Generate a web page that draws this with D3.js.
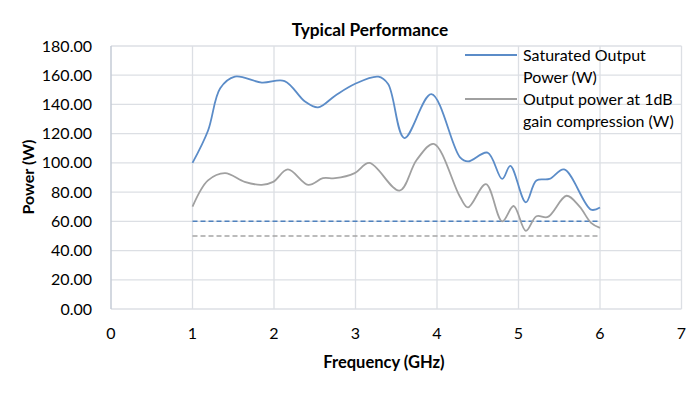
<!DOCTYPE html>
<html>
<head>
<meta charset="utf-8">
<script src="https://cdn.jsdelivr.net/npm/d3@7"></script>
<style>
    body { margin: 0; background: #fff; }
    svg { display: block; }
</style>
</head>
<body>
<div id="chart"></div>
<script>
// Saturated output power (W)
const satFreq = [1.0, 1.19, 1.34, 1.52, 1.85, 2.13, 2.38, 2.54, 2.75, 2.99, 3.28, 3.40, 3.60, 3.93, 4.28, 4.38, 4.62, 4.80, 4.90, 5.09, 5.22, 5.38, 5.56, 5.89, 6.0];
const satPower = [100, 122, 151, 159, 155, 156, 142, 138, 146, 154, 159, 154, 117, 147, 104, 101, 107, 89, 98, 73, 88, 89, 95.5, 68, 69.5];

// Output power at 1dB gain compression (W)
const p1dbFreq = [1.0, 1.19, 1.40, 1.64, 1.85, 1.99, 2.17, 2.42, 2.60, 2.75, 2.99, 3.17, 3.54, 3.75, 3.96, 4.28, 4.38, 4.60, 4.80, 4.94, 5.09, 5.22, 5.36, 5.59, 5.75, 5.89, 6.0];
const p1dbPower = [70, 88, 93, 87, 85, 87, 95.5, 85, 89.5, 89.5, 93, 100, 81, 102, 113, 77, 69.5, 85.5, 60, 70.5, 53.5, 63.5, 63, 77.5, 70, 59, 55.5];

// spec lines (dashed)
const specFreq = [1, 6];
const satSpec = [60, 60];
const p1dbSpec = [50, 50];

const xTicks = [0, 1, 2, 3, 4, 5, 6, 7];
const yTicks = [0, 20, 40, 60, 80, 100, 120, 140, 160, 180];

const width = 700;
const height = 397;
const margin = {top: 46, right: 18, bottom: 88, left: 111};

const blue = "#5b8cc8";
const grey = "#a0a0a0";
const font = "Lato, 'Open Sans', sans-serif";

const svg = d3.select("#chart")
    .append("svg")
    .attr("width", width)
    .attr("height", height);

const x = d3.scaleLinear()
    .domain([0, 7])
    .range([margin.left, width - margin.right - 0.5]);

const y = d3.scaleLinear()
    .domain([0, 180])
    .range([height - margin.bottom, margin.top]);

// gridlines
svg.append("g")
    .selectAll("line")
    .data(yTicks)
    .enter()
    .append("line")
    .attr("x1", x(0))
    .attr("x2", x(7))
    .attr("y1", d => y(d))
    .attr("y2", d => y(d))
    .attr("stroke", "#dcdfe4")
    .attr("stroke-width", 1.3);

svg.append("g")
    .selectAll("line")
    .data(xTicks.slice(1))
    .enter()
    .append("line")
    .attr("x1", d => x(d))
    .attr("x2", d => x(d))
    .attr("y1", y(0))
    .attr("y2", y(180))
    .attr("stroke", "#dcdfe4")
    .attr("stroke-width", 1.3);

// left axis line
svg.append("line")
    .attr("x1", x(0))
    .attr("x2", x(0))
    .attr("y1", y(0))
    .attr("y2", y(180))
    .attr("stroke", "#c5cbd6")
    .attr("stroke-width", 1.5);

// tick labels
svg.append("g")
    .selectAll("text")
    .data(yTicks)
    .enter()
    .append("text")
    .attr("x", 92)
    .attr("y", d => y(d))
    .attr("dy", "0.35em")
    .attr("text-anchor", "end")
    .style("font-family", font)
    .style("font-size", "16px")
    .attr("fill", "#000")
    .text(d => d3.format(".2f")(d));

svg.append("g")
    .selectAll("text")
    .data(xTicks)
    .enter()
    .append("text")
    .attr("x", d => x(d))
    .attr("y", 333)
    .attr("dy", "0.35em")
    .attr("text-anchor", "middle")
    .style("font-family", font)
    .style("font-size", "16px")
    .attr("fill", "#000")
    .text(d => d);

// axis titles
svg.append("text")
    .attr("x", 384)
    .attr("y", 362)
    .attr("dy", "0.35em")
    .attr("text-anchor", "middle")
    .style("font-family", font)
    .style("font-size", "16.5px")
    .style("font-weight", "bold")
    .text("Frequency (GHz)");

svg.append("text")
    .attr("transform", "translate(28,177) rotate(-90)")
    .attr("dy", "0.35em")
    .attr("text-anchor", "middle")
    .style("font-family", font)
    .style("font-size", "16px")
    .style("font-weight", "bold")
    .text("Power (W)");

svg.append("text")
    .attr("x", 370)
    .attr("y", 30)
    .attr("dy", "0.35em")
    .attr("text-anchor", "middle")
    .style("font-family", font)
    .style("font-size", "17.3px")
    .style("font-weight", "bold")
    .text("Typical Performance");

// dashed spec lines
const specLine = d3.line()
    .x(d => x(d[0]))
    .y(d => y(d[1]));

svg.append("path")
    .datum(d3.zip(specFreq, satSpec))
    .attr("d", specLine)
    .attr("fill", "none")
    .attr("stroke", "#4f81bd")
    .attr("stroke-width", 1.5)
    .attr("stroke-dasharray", "5,3");

svg.append("path")
    .datum(d3.zip(specFreq, p1dbSpec))
    .attr("d", specLine)
    .attr("fill", "none")
    .attr("stroke", "#a5a5a5")
    .attr("stroke-width", 1.5)
    .attr("stroke-dasharray", "5,3");

// smooth series lines
const smoothLine = d3.line()
    .x(d => x(d[0]))
    .y(d => y(d[1]))
    .curve(d3.curveCatmullRom.alpha(0.5));

svg.append("path")
    .datum(d3.zip(p1dbFreq, p1dbPower))
    .attr("d", smoothLine)
    .attr("fill", "none")
    .attr("stroke", grey)
    .attr("stroke-width", 1.8);

svg.append("path")
    .datum(d3.zip(satFreq, satPower))
    .attr("d", smoothLine)
    .attr("fill", "none")
    .attr("stroke", blue)
    .attr("stroke-width", 1.8);

// legend
const legend = [
    {color: blue, y: 55, lines: ["Saturated Output", "Power (W)"]},
    {color: grey, y: 99, lines: ["Output power at 1dB", "gain compression (W)"]}
];

legend.forEach(item => {
    svg.append("line")
        .attr("x1", 465)
        .attr("x2", 517)
        .attr("y1", item.y)
        .attr("y2", item.y)
        .attr("stroke", item.color)
        .attr("stroke-width", 1.8);

    item.lines.forEach((t, i) => {
        svg.append("text")
            .attr("x", 523)
            .attr("y", item.y + i * 22)
            .attr("dy", "0.35em")
            .style("font-family", font)
            .style("font-size", "16px")
            .attr("fill", "#000")
            .text(t);
    });
});
</script>
</body>
</html>
